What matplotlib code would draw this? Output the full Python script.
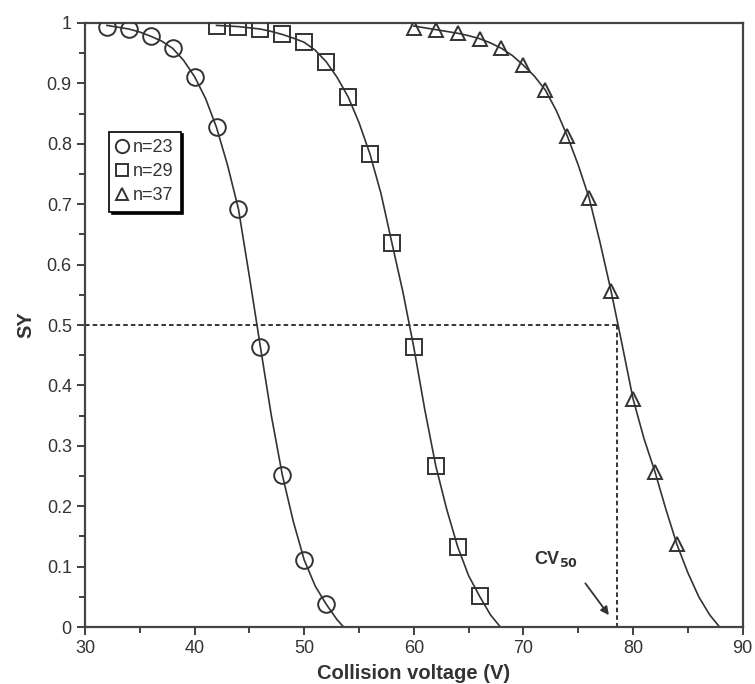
import matplotlib
matplotlib.use("Agg")
import matplotlib.pyplot as plt
from matplotlib.ticker import MultipleLocator, FuncFormatter

plt.rcParams['font.family'] = ['Liberation Sans Narrow', 'Liberation Sans', 'DejaVu Sans']

#####  Measured points (survival yield vs collision voltage)
x_n23 = [32, 34, 36, 38, 40, 42, 44, 46, 48, 50, 52]
y_n23 = [0.994, 0.990, 0.978, 0.958, 0.911, 0.827, 0.692, 0.464, 0.252, 0.111, 0.038]

x_n29 = [42, 44, 46, 48, 50, 52, 54, 56, 58, 60, 62, 64, 66]
y_n29 = [0.995, 0.994, 0.990, 0.981, 0.968, 0.936, 0.878, 0.783, 0.636, 0.463, 0.267, 0.133, 0.051]

x_n37 = [60, 62, 64, 66, 68, 70, 72, 74, 76, 78, 80, 82, 84]
y_n37 = [0.991, 0.988, 0.983, 0.974, 0.958, 0.930, 0.889, 0.813, 0.710, 0.556, 0.378, 0.257, 0.137]

#####  Fitted curves
fit_x_n23 = [32, 33, 34, 35, 36, 37, 38, 39, 40, 41, 42, 43, 44, 45, 46, 47, 48, 49, 50, 51, 52, 53, 53.6]
fit_y_n23 = [0.996, 0.993, 0.990, 0.985, 0.978, 0.970, 0.958, 0.938, 0.911, 0.875, 0.827, 0.765, 0.692,
             0.580, 0.464, 0.350, 0.252, 0.175, 0.111, 0.068, 0.038, 0.012, 0.0]

fit_x_n29 = [42, 43, 44, 45, 46, 47, 48, 49, 50, 51, 52, 53, 54, 55, 56, 57, 58, 59, 60, 61, 62, 63, 64,
             65, 66, 67, 67.9]
fit_y_n29 = [0.996, 0.995, 0.994, 0.992, 0.990, 0.986, 0.981, 0.975, 0.968, 0.955, 0.936, 0.910, 0.878,
             0.835, 0.783, 0.718, 0.636, 0.555, 0.463, 0.360, 0.267, 0.195, 0.133, 0.085, 0.051, 0.020, 0.0]

fit_x_n37 = [60, 61, 62, 63, 64, 65, 66, 67, 68, 69, 70, 71, 72, 73, 74, 75, 76, 77, 78, 79, 80, 81, 82,
             83, 84, 85, 86, 87, 87.9]
fit_y_n37 = [0.995, 0.992, 0.989, 0.986, 0.983, 0.979, 0.974, 0.967, 0.958, 0.946, 0.930, 0.912, 0.889,
             0.855, 0.813, 0.765, 0.710, 0.636, 0.556, 0.468, 0.378, 0.312, 0.257, 0.195, 0.137, 0.090,
             0.050, 0.020, 0.0]

labels = ['n=23', 'n=29', 'n=37']
cv50 = 78.57

ink = '#333333'

fig = plt.figure(figsize=(7.55, 6.84), dpi=100)
ax = fig.add_axes([0.1126, 0.0833, 0.871, 0.8831])

# fitted lines
for fx, fy in [(fit_x_n23, fit_y_n23), (fit_x_n29, fit_y_n29), (fit_x_n37, fit_y_n37)]:
    ax.plot(fx, fy, color=ink, lw=1.2, zorder=2)

# markers
mk = dict(ls='none', mfc='none', mec=ink, mew=1.4, zorder=3)
ax.plot(x_n23, y_n23, 'o', ms=12, label=labels[0], **mk)
ax.plot(x_n29, y_n29, 's', ms=11.5, label=labels[1], **mk)
ax.plot(x_n37, y_n37, '^', ms=10, label=labels[2], **mk)

# CV50 guide lines
ax.plot([30, cv50], [0.5, 0.5], color='black', lw=1.1, dashes=(3, 2), zorder=1)
ax.plot([cv50, cv50], [0.5, 0], color='black', lw=1.1, dashes=(3, 2), zorder=1)
ax.annotate('', xy=(77.95, 0.016), xytext=(75.5, 0.076),
            arrowprops=dict(arrowstyle='-|>', color=ink, lw=1.3, mutation_scale=12))
ax.text(73.0, 0.112, r'CV$_{\mathbf{50}}$', fontsize=13, fontweight='bold', color=ink,
        ha='center', va='center')

ax.set_xlim(30, 90)
ax.set_ylim(0, 1)
ax.xaxis.set_major_locator(MultipleLocator(10))
ax.xaxis.set_minor_locator(MultipleLocator(5))
ax.yaxis.set_major_locator(MultipleLocator(0.1))
ax.yaxis.set_minor_locator(MultipleLocator(0.05))
ax.yaxis.set_major_formatter(FuncFormatter(lambda v, p: '%g' % round(v, 2)))
ax.tick_params(which='both', direction='out', colors=ink, labelsize=13, width=1.3)
ax.tick_params(which='major', length=6)
ax.tick_params(which='minor', length=4)
for s in ax.spines.values():
    s.set_color('#444444')
    s.set_linewidth(1.6)

ax.set_xlabel('Collision voltage (V)', fontsize=14.5, fontweight='bold', color=ink, labelpad=5)
ax.set_ylabel('SY', fontsize=14.5, fontweight='bold', color=ink, labelpad=8)

leg = ax.legend(loc='upper left', bbox_to_anchor=(0.037, 0.82), borderaxespad=0,
                fancybox=False, shadow={'color': 'black', 'alpha': 1}, fontsize=13,
                handlelength=0.6, handletextpad=0.3, borderpad=0.4, labelspacing=0.4,
                markerscale=0.8, framealpha=1)
leg.get_frame().set_edgecolor('black')
leg.get_frame().set_linewidth(1.2)
for t in leg.get_texts():
    t.set_color(ink)

fig.savefig('out.png', dpi=100)
